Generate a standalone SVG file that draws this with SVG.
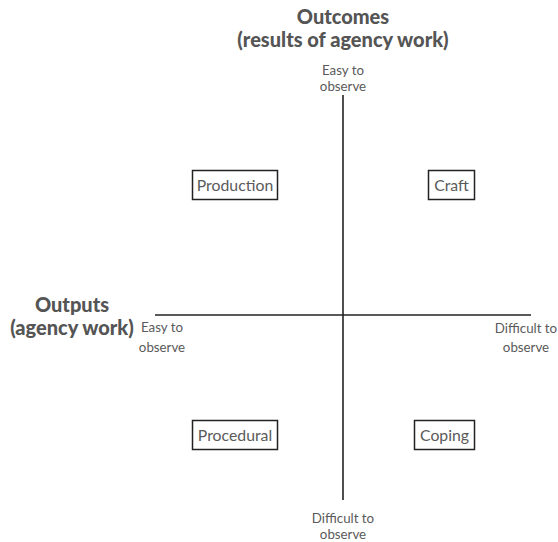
<svg xmlns="http://www.w3.org/2000/svg" width="558" height="542" viewBox="0 0 558 542">
  <style>
    text { font-family: Lato, "Open Sans", "Liberation Sans", sans-serif; fill: #5a5a5a; }
    .title { font-size: 20px; font-weight: 900; fill: #555555; }
    .small { font-size: 13.3px; }
    .label { font-size: 15.8px; }
    .box { fill: #ffffff; stroke: #222222; stroke-width: 1.5; }
    .axis { stroke: #222222; stroke-width: 1.6; fill: none; }
  </style>
  <rect width="558" height="542" fill="#ffffff"/>

  <!-- axes -->
  <g id="connectors">
    <line class="axis" x1="343" y1="95" x2="343" y2="500"/>
    <line class="axis" x1="155" y1="315" x2="531" y2="315"/>
  </g>

  <!-- vertical axis titles -->
  <g id="outcomes-title">
    <text class="title" x="343" y="24" text-anchor="middle">Outcomes</text>
    <text class="title" x="343" y="47" text-anchor="middle">(results of agency work)</text>
  </g>
  <g id="top-end">
    <text class="small" x="343" y="75" text-anchor="middle">Easy to</text>
    <text class="small" x="343" y="91" text-anchor="middle">observe</text>
  </g>
  <g id="bottom-end">
    <text class="small" x="343" y="523" text-anchor="middle">Difficult to</text>
    <text class="small" x="343" y="539" text-anchor="middle">observe</text>
  </g>

  <!-- horizontal axis titles -->
  <g id="outputs-title">
    <text class="title" x="72" y="312" text-anchor="middle">Outputs</text>
    <text class="title" x="72" y="335" text-anchor="middle">(agency work)</text>
  </g>
  <g id="left-end">
    <text class="small" x="162" y="332" text-anchor="middle">Easy to</text>
    <text class="small" x="162" y="352" text-anchor="middle">observe</text>
  </g>
  <g id="right-end">
    <text class="small" x="526" y="333" text-anchor="middle">Difficult to</text>
    <text class="small" x="526" y="352" text-anchor="middle">observe</text>
  </g>

  <!-- quadrants -->
  <g id="production">
    <rect class="box" x="192.5" y="170.5" width="85" height="29"/>
    <text class="label" x="235" y="191" text-anchor="middle">Production</text>
  </g>
  <g id="craft">
    <rect class="box" x="428.5" y="170.5" width="46" height="29"/>
    <text class="label" x="451.5" y="191" text-anchor="middle">Craft</text>
  </g>
  <g id="procedural">
    <rect class="box" x="192.5" y="420.5" width="85" height="29"/>
    <text class="label" x="235" y="441" text-anchor="middle">Procedural</text>
  </g>
  <g id="coping">
    <rect class="box" x="414.5" y="420.5" width="60" height="29"/>
    <text class="label" x="444.5" y="441" text-anchor="middle">Coping</text>
  </g>
</svg>
